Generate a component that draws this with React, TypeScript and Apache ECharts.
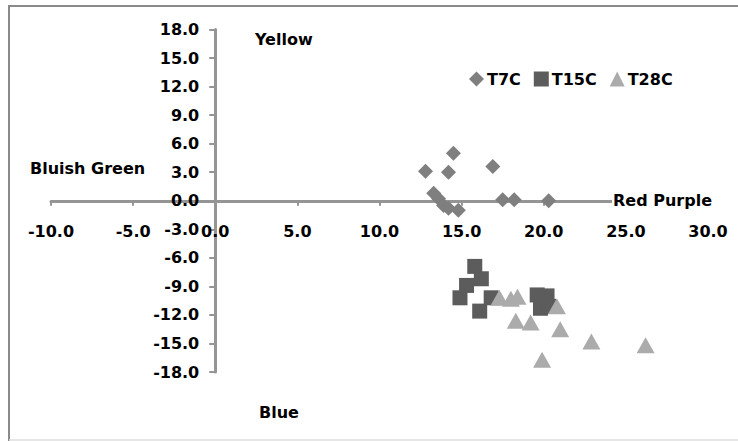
import React, { useEffect, useRef } from "react";
import * as echarts from "echarts";

const seriesNames = ["T7C", "T15C", "T28C"];

const t7c: [number, number][] = [
  [12.8, 3.1],
  [14.5, 5.0],
  [14.2, 3.0],
  [16.9, 3.6],
  [13.3, 0.8],
  [13.6, 0.2],
  [13.9, -0.5],
  [14.2, -0.8],
  [14.8, -1.0],
  [17.5, 0.1],
  [18.2, 0.1],
  [20.3, 0.0],
];

const t15c: [number, number][] = [
  [15.8, -6.9],
  [16.2, -8.2],
  [15.3, -8.9],
  [14.9, -10.2],
  [16.1, -11.6],
  [16.8, -10.2],
  [19.6, -9.9],
  [20.2, -10.0],
  [19.8, -11.3],
  [20.3, -11.1],
];

const t28c: [number, number][] = [
  [17.3, -10.2],
  [18.0, -10.3],
  [18.4, -10.1],
  [18.3, -12.6],
  [19.2, -12.8],
  [20.8, -11.1],
  [21.0, -13.5],
  [22.9, -14.8],
  [26.2, -15.2],
  [19.9, -16.7],
];

const xMin = -10;
const xMax = 30;
const xStep = 5;
const yMin = -18;
const yMax = 18;
const yStep = 3;

const FONT = "DejaVu Sans";

const W = 738;
const H = 441;
const GRID = { left: 51, right: 30, top: 29.5, bottom: 69 };

export default function App() {
  const ref = useRef<HTMLDivElement>(null);
  useEffect(() => {
    if (!ref.current) return;
    document.body.style.margin = "0";
    document.body.style.overflow = "hidden";
    const chart = echarts.init(ref.current, undefined, { renderer: "svg" });
    const axisColor = "#959595";
    const labelStyle = {
      color: "#000",
      fontFamily: FONT,
      fontWeight: "bold" as const,
      fontSize: 16,
    };
    const gw = W - GRID.left - GRID.right;
    const gh = H - GRID.top - GRID.bottom;
    // offsets that bring each axis onto the other's zero, labels included
    const xAxisOffset = -(gh * (0 - yMin)) / (yMax - yMin);
    const yAxisOffset = -(gw * (0 - xMin)) / (xMax - xMin);
    chart.setOption({
      animation: false,
      backgroundColor: "#fff",
      grid: { ...GRID, containLabel: false },
      legend: {
        data: [
          { name: "T7C", icon: "diamond" },
          { name: "T15C", icon: "rect" },
          { name: "T28C", icon: "triangle" },
        ],
        left: 464,
        top: 66,
        itemWidth: 15,
        itemHeight: 15,
        itemGap: 13,
        textStyle: { ...labelStyle, padding: [0, 0, 0, -2] },
      },
      xAxis: {
        type: "value",
        position: "bottom",
        offset: xAxisOffset,
        min: xMin,
        max: xMax,
        interval: xStep,
        splitLine: { show: false },
        axisLine: { onZero: false, lineStyle: { color: axisColor, width: 3 } },
        axisTick: { show: true, length: 5, lineStyle: { color: axisColor, width: 2 } },
        axisLabel: {
          ...labelStyle,
          margin: 23,
          formatter: (v: number) => v.toFixed(1),
        },
      },
      yAxis: {
        type: "value",
        position: "left",
        offset: yAxisOffset,
        min: yMin,
        max: yMax,
        interval: yStep,
        splitLine: { show: false },
        axisLine: { onZero: false, lineStyle: { color: axisColor, width: 3 } },
        axisTick: { show: true, length: 6, lineStyle: { color: axisColor, width: 2 } },
        axisLabel: {
          ...labelStyle,
          margin: 16,
          formatter: (v: number) => v.toFixed(1),
        },
      },
      series: [
        {
          name: seriesNames[0],
          type: "scatter",
          symbol: "diamond",
          symbolSize: 15,
          itemStyle: { color: "#7f7f7f", opacity: 1 },
          data: t7c,
          z: 3,
        },
        {
          name: seriesNames[1],
          type: "scatter",
          symbol: "rect",
          symbolSize: 15,
          itemStyle: { color: "#5c5c5c", opacity: 1 },
          data: t15c,
          z: 3,
        },
        {
          name: seriesNames[2],
          type: "scatter",
          symbol: "triangle",
          symbolSize: [18, 16],
          itemStyle: { color: "#ababab", opacity: 1 },
          data: t28c,
          z: 4,
        },
      ],
      graphic: [
        {
          type: "line",
          shape: { x1: 8, y1: 6, x2: 738, y2: 6 },
          style: { stroke: "#8a8a8a", lineWidth: 2 },
        },
        {
          type: "line",
          shape: { x1: 9, y1: 6, x2: 9, y2: 441 },
          style: { stroke: "#8a8a8a", lineWidth: 2 },
        },
        {
          type: "line",
          shape: { x1: 9, y1: 440, x2: 738, y2: 440 },
          style: { stroke: "#dedede", lineWidth: 1.5 },
        },
        {
          type: "text",
          left: 255,
          top: 31,
          style: { text: "Yellow", fill: "#000", font: `bold 16px ${FONT}` },
        },
        {
          type: "text",
          left: 30,
          top: 160,
          style: { text: "Bluish Green", fill: "#000", font: `bold 16px ${FONT}` },
        },
        {
          type: "text",
          left: 259,
          top: 404,
          style: { text: "Blue", fill: "#000", font: `bold 16px ${FONT}` },
        },
        {
          type: "text",
          left: 612,
          top: 191,
          z: 10,
          style: {
            text: "Red Purple",
            fill: "#000",
            font: `bold 16px ${FONT}`,
            backgroundColor: "#fff",
            padding: [1, 0, 1, 1],
          },
        },
      ],
    });
    return () => chart.dispose();
  }, []);
  return <div ref={ref} style={{ width: W, height: H }} />;
}
